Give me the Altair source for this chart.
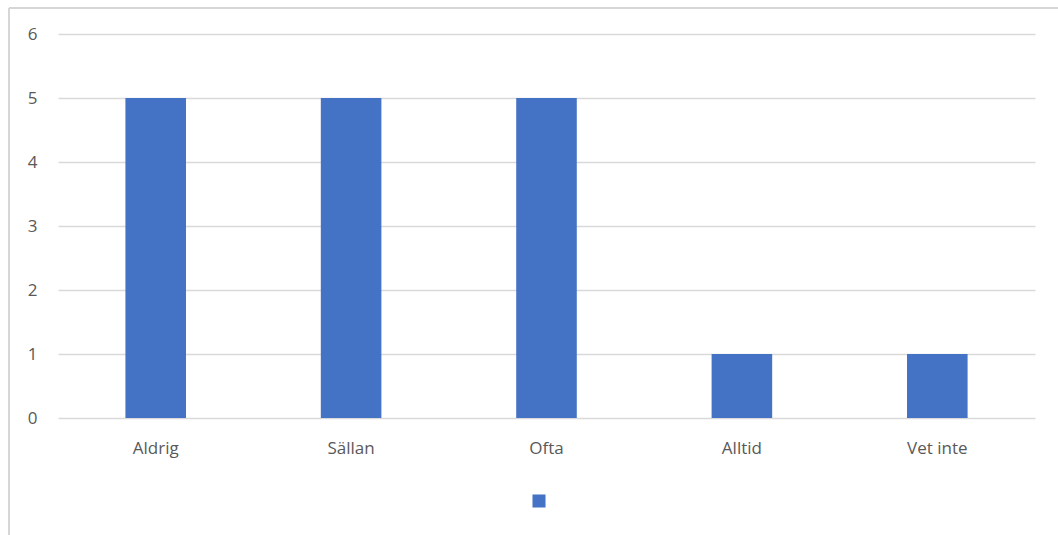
import altair as alt
import pandas as pd

# Survey answers and their counts
categories = ["Aldrig", "Sällan", "Ofta", "Alltid", "Vet inte"]
counts = [5, 5, 5, 1, 1]
series_name = [""] * len(categories)

df = pd.DataFrame({"svar": categories, "antal": counts, "serie": series_name})

FONT = "Open Sans"
GRAY_TEXT = "#595959"
GRID = "#d9d9d9"

bars = alt.Chart(df).mark_bar(color="#4472C4").encode(
    x=alt.X(
        "svar:N",
        sort=categories,
        scale=alt.Scale(paddingInner=0.69, paddingOuter=0.345),
        axis=alt.Axis(
            title=None,
            labelAngle=0,
            ticks=False,
            domain=False,
            labelPadding=22,
            labelFontSize=17,
            labelColor=GRAY_TEXT,
            labelFont=FONT,
        ),
    ),
    y=alt.Y(
        "antal:Q",
        scale=alt.Scale(domain=[0, 6]),
        axis=alt.Axis(
            title=None,
            values=[0, 1, 2, 3, 4, 5, 6],
            ticks=False,
            domain=False,
            grid=True,
            gridColor=GRID,
            gridWidth=1.5,
            labelPadding=21,
            labelFontSize=17,
            labelColor=GRAY_TEXT,
            labelFont=FONT,
        ),
    ),
    color=alt.Color(
        "serie:N",
        scale=alt.Scale(range=["#4472C4"]),
        legend=alt.Legend(
            title=None,
            orient="none",
            legendX=474,
            legendY=460,
            symbolType="square",
            symbolSize=170,
            symbolStrokeWidth=0,
            labelFontSize=1,
        ),
    ),
)

# Outer frame of the chart (left and top edges)
frame_left = alt.Chart().mark_rule(color="#d6d6d6", strokeWidth=2).encode(
    x=alt.value(-49), y=alt.value(-26), y2=alt.value(510)
)
frame_top = alt.Chart().mark_rule(color="#d6d6d6", strokeWidth=2).encode(
    x=alt.value(-49), x2=alt.value(1010), y=alt.value(-26)
)

chart = (
    alt.layer(bars, frame_left, frame_top)
    .properties(
        width=977,
        height=384,
        background="white",
        autosize=alt.AutoSizeParams(type="none"),
        padding={"left": 58, "top": 34, "right": 23, "bottom": 117},
    )
    .configure_view(strokeWidth=0, stroke="transparent")
)

chart.save("out.html", embed_options={"renderer": "svg", "actions": False})
